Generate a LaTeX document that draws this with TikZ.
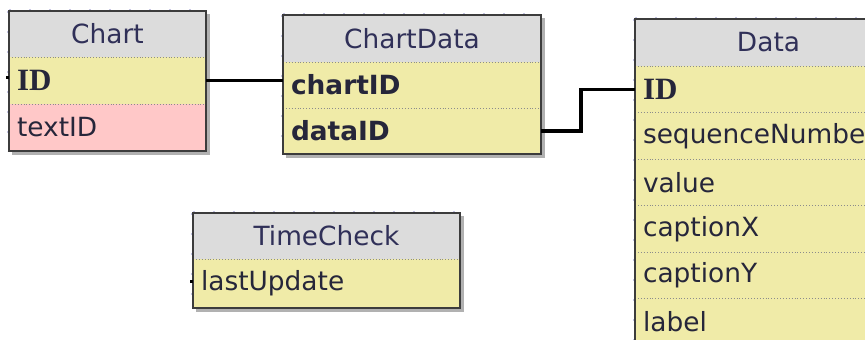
\documentclass[tikz,border=0pt]{standalone}
\usepackage{fontspec}
\usetikzlibrary{calc}
\setmainfont{DejaVu Sans}
\newfontfamily\keyfont{Liberation Serif}
\definecolor{hdr}{HTML}{DCDCDC}
\definecolor{fld}{HTML}{F0EBA8}
\definecolor{fk}{HTML}{FFC8C8}
\definecolor{ink}{HTML}{26263A}
\definecolor{hink}{HTML}{303058}
\definecolor{edge}{HTML}{3C3C3C}
\definecolor{tick}{HTML}{C4C4E4}
\newcommand{\pkey}{\keyfont\bfseries\fontsize{31}{32}\selectfont ID}
\tikzset{
  cell/.style={rectangle, anchor=north west, inner xsep=8pt, inner ysep=0pt,
    outer sep=0pt, font=\fontsize{26.4}{30}\selectfont, text=ink},
  head/.style={cell, fill=hdr, text=hink, align=center},
  row/.style={cell, fill=fld, align=left},
  fkrow/.style={cell, fill=fk, align=left},
  frame/.style={draw=edge, line width=2pt},
  shade/.style={fill=black!38, opacity=0.8},
  sepline/.style={draw=black!45, line width=0.9pt, dotted},
  ticks/.style={draw=tick, line width=1pt, dash pattern=on 2pt off 18pt},
  link/.style={draw=black, line width=3.2pt},
  stub/.style={draw=black, line width=2.5pt},
}
\begin{document}
\begin{tikzpicture}[x=1pt,y=-1pt]
\useasboundingbox (0,0) rectangle (865,340);
\clip (0,0) rectangle (865,340);
\fill[white] (0,0) rectangle (865,340);

% ---- shadows
\fill[shade] (12,14) rectangle (210,155);
\fill[shade] (286,18) rectangle (545,158);
\fill[shade] (638,22) rectangle (905,350);
\fill[shade] (196,216) rectangle (464,312);

% ---- grid ticks along the top and left sides of each table
\draw[ticks] (9,9) -- (206,9);
\draw[ticks] (7,11) -- (7,151);
\draw[ticks] (283,13) -- (541,13);
\draw[ticks] (281,15) -- (281,154);
\draw[ticks] (635,17) -- (865,17);
\draw[ticks] (633,19) -- (633,340);
\draw[ticks] (193,211) -- (460,211);
\draw[ticks] (191,213) -- (191,308);

% ---- Chart
\node[head, minimum width=197pt, minimum height=46pt, text width=181pt] (cH) at (9,11) {Chart};
\node[row, minimum width=197pt, minimum height=47pt, text width=181pt] (cID) at (9,57) {\pkey};
\node[fkrow, minimum width=197pt, minimum height=47pt, text width=181pt] (cText) at (9,104) {textID};
\draw[sepline] (cID.north west) -- (cID.north east);
\draw[sepline] (cText.north west) -- (cText.north east);
\draw[frame] (cH.north west) rectangle (cText.south east);

% ---- ChartData
\node[head, minimum width=258pt, minimum height=47pt, text width=242pt] (cdH) at (283,15) {ChartData};
\node[row, minimum width=258pt, minimum height=46pt, text width=242pt] (cdChart) at (283,62) {\bfseries chartID};
\node[row, minimum width=258pt, minimum height=46pt, text width=242pt] (cdData) at (283,108) {\bfseries dataID};
\draw[sepline] (cdChart.north west) -- (cdChart.north east);
\draw[sepline] (cdData.north west) -- (cdData.north east);
\draw[frame] (cdH.north west) rectangle (cdData.south east);

% ---- Data
\node[head, minimum width=267pt, minimum height=47pt, text width=251pt] (dH) at (635,19) {Data};
\node[row, minimum width=267pt, minimum height=46.5pt, text width=251pt] (dID) at (635,66) {\pkey};
\node[row, minimum width=267pt, minimum height=46.5pt, text width=251pt] (dSeq) at (635,112.5) {sequenceNumber};
\node[row, minimum width=267pt, minimum height=46.5pt, text width=251pt] (dVal) at (635,159) {value};
\node[row, minimum width=267pt, minimum height=46.5pt, text width=251pt] (dCapX) at (635,205.5) {captionX};
\node[row, minimum width=267pt, minimum height=46.5pt, text width=251pt] (dCapY) at (635,252) {captionY};
\node[row, minimum width=267pt, minimum height=46.5pt, text width=251pt] (dLab) at (635,298.5) {label};
\foreach \r in {dID,dSeq,dVal,dCapX,dCapY,dLab}
  \draw[sepline] (\r.north west) -- (\r.north east);
\draw[frame] (dH.north west) rectangle (dLab.south east);

% ---- TimeCheck
\node[head, minimum width=267pt, minimum height=46pt, text width=251pt] (tH) at (193,213) {TimeCheck};
\node[row, minimum width=267pt, minimum height=49pt, text width=251pt] (tLast) at (193,259) {lastUpdate};
\draw[sepline] (tLast.north west) -- (tLast.north east);
\draw[frame] (tH.north west) rectangle (tLast.south east);

% ---- relationships
\draw[link] (cID.east) -- (cID.east -| cdChart.west);
\draw[link] (cdData.east) -- ++(40,0) |- (dID.west);

% ---- short connector stubs on the left sides
\coordinate (cStub) at ($(cID.west)+(-3,-3)$);
\draw[stub] (cStub) -- ++(3,0);
\coordinate (tStub) at ($(tLast.west)+(-3,-2)$);
\draw[stub] (tStub) -- ++(3,0);
\end{tikzpicture}
\end{document}
